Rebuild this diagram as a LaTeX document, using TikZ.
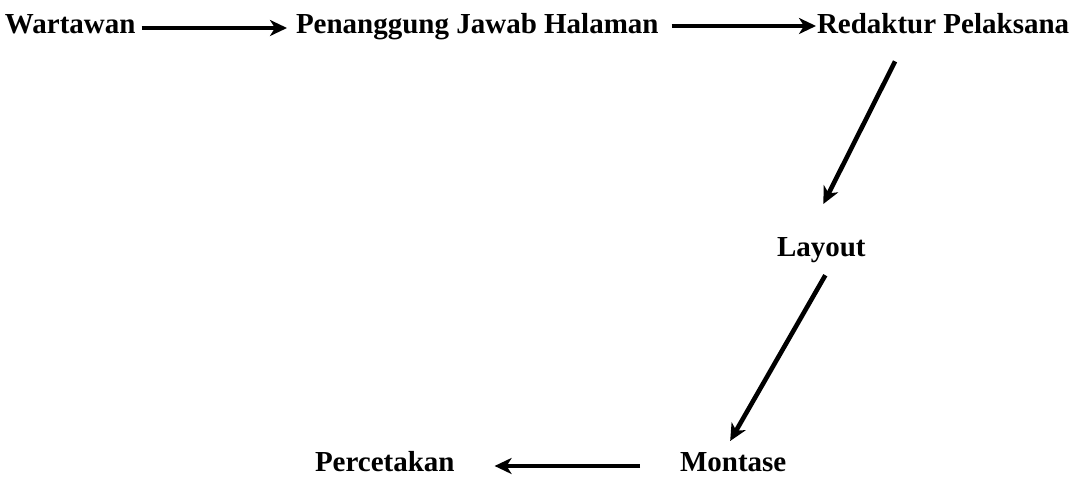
\documentclass[tikz,border=0pt]{standalone}
\usepackage{fontspec}
\setmainfont{Liberation Serif}
\usetikzlibrary{arrows.meta}
\begin{document}
\begin{tikzpicture}[x=1pt,y=1pt,
  lbl/.style={inner sep=0pt,outer sep=0pt,anchor=base west,font=\fontsize{29}{34}\selectfont\bfseries},
  arr/.style={line width=4.6pt,-{Stealth[length=17pt,width=16pt,inset=5pt]}}]
\useasboundingbox (0,0) rectangle (1076,478);
\node[lbl] (w) at (5,444) {Wartawan};
\node[lbl] (p) at (296,444) {Penanggung Jawab Halaman};
\node[lbl] (r) at (817,444) {Redaktur Pelaksana};
\node[lbl] (l) at (777,221) {Layout};
\node[lbl] (m) at (680,6) {Montase};
\node[lbl] (c) at (315,6) {Percetakan};
\draw[arr] ([xshift=6pt,yshift=6pt]w.base east) -- ([xshift=-9pt,yshift=6pt]p.base west);
\draw[arr] ([xshift=13pt,yshift=8pt]p.base east) -- ([xshift=-1pt,yshift=8pt]r.base west);
\draw[arr] ([xshift=-48pt,yshift=-27pt]r.south) -- ([xshift=2pt,yshift=34pt]l.north);
\draw[arr] ([xshift=4pt,yshift=-12pt]l.south) -- ([xshift=-3pt,yshift=12pt]m.north);
\draw[arr] ([xshift=-40pt,yshift=6pt]m.base west) -- ([xshift=40pt,yshift=6pt]c.base east);
\end{tikzpicture}
\end{document}
